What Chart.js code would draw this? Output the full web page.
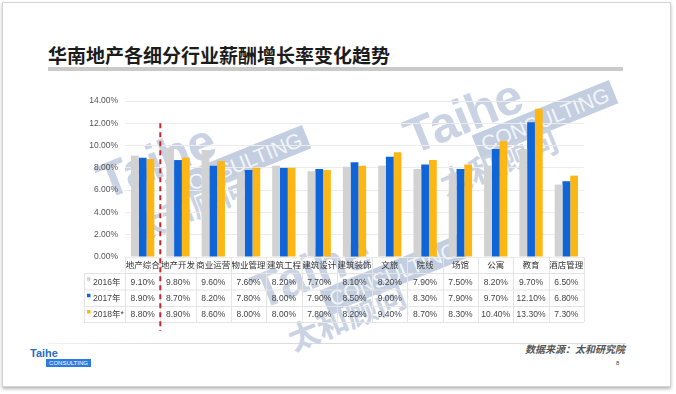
<!DOCTYPE html>
<html>
<head>
<meta charset="utf-8">
<script src="https://cdn.jsdelivr.net/npm/chart.js@4.4.1/dist/chart.umd.min.js"></script>
<style>
  html, body { margin: 0; padding: 0; background: #fff; }
  body { width: 676px; height: 394px; position: relative; overflow: hidden;
         font-family: "Liberation Sans", "Noto Sans CJK SC", sans-serif; }
  #slide { position: absolute; left: 2px; top: 2px; width: 667px; height: 383px;
           border: 1px solid #d4d4d4; background: #fff; box-shadow: 0 2px 3px rgba(0,0,0,.28); }
  #title { position: absolute; left: 48px; top: 45px; font-size: 19px; line-height: 19px;
           font-weight: bold; color: #1c1c1c; white-space: nowrap; font-family: "Noto Sans CJK SC", sans-serif; }
  #titleBar { position: absolute; left: 48px; top: 67px; width: 575px; height: 4px; background: #cacaca; }
  #c { position: absolute; left: 0; top: 0; z-index: 2; }
  .wm { position: absolute; z-index: 1; transform: rotate(-22deg); transform-origin: 0 0;
        color: #c9d3e3; pointer-events: none; }
  .wm .t { position: absolute; left: 0; top: 0; font: bold 50px/50px "Liberation Sans", sans-serif; letter-spacing: -1px; }
  .wm .b { position: absolute; left: 62px; top: 46px; background: #c3cee0; color: #f2f5fa;
           font: 21px/25px "Liberation Sans", sans-serif; padding: 0 6px; white-space: nowrap; }
  .wm .z { position: absolute; left: 15px; top: 64px; font: bold 31px/31px "Noto Sans CJK SC", sans-serif; white-space: nowrap; }
  #footLine { position: absolute; left: 48px; top: 343px; width: 578px; height: 1px;
              background: linear-gradient(to right, #f2f2f2, #dcdcdc 20%, #dcdcdc); }
  #logoT { position: absolute; left: 30px; top: 347px; font: bold 11px/12px "Liberation Sans", sans-serif; color: #2a6cc6; }
  #logoC { position: absolute; left: 46px; top: 359px; width: 45px; height: 8px; background: #2b7ce0;
           color: #fff; font: 6px/8px "Liberation Sans", sans-serif; text-align: center; }
  #source { position: absolute; right: 51px; top: 343px; font: italic bold 10px/12px "Noto Sans CJK SC", sans-serif; color: #555; }
  #page { position: absolute; left: 616px; top: 360px; font: 6px/7px "Liberation Sans", sans-serif; color: #444; }
</style>
</head>
<body>
<div id="slide"></div>
<div id="title">华南地产各细分行业薪酬增长率变化趋势</div>
<div id="titleBar"></div>
<div class="wm" style="left:90px;top:161px"><div class="t">Taihe</div><div class="b">CONSULTING</div><div class="z">太和顾问</div></div>
<div class="wm" style="left:397px;top:116px"><div class="t">Taihe</div><div class="b">CONSULTING</div><div class="z">太和顾问</div></div>
<div class="wm" style="left:245px;top:271px"><div class="t">Taihe</div><div class="b">CONSULTING</div><div class="z">太和顾问</div></div>
<canvas id="c" width="676" height="394"></canvas>
<div id="footLine"></div>
<div id="logoT">Taihe</div>
<div id="logoC">CONSULTING</div>
<div id="source">数据来源：太和研究院</div>
<div id="page">8</div>

<script>
const categories = ['地产综合', '地产开发', '商业运营', '物业管理', '建筑工程', '建筑设计', '建筑装饰',
                    '文旅', '院线', '场馆', '公寓', '教育', '酒店管理'];
const years   = ['2016年', '2017年', '2018年*'];
const rate2016 = [9.1, 9.8, 9.6, 7.6, 8.2, 7.7, 8.1, 8.2, 7.9, 7.5, 8.2, 9.7, 6.5];
const rate2017 = [8.9, 8.7, 8.2, 7.8, 8.0, 7.9, 8.5, 9.0, 8.3, 7.9, 9.7, 12.1, 6.8];
const rate2018 = [8.8, 8.9, 8.6, 8.0, 8.0, 7.8, 8.2, 9.4, 8.7, 8.3, 10.4, 13.3, 7.3];
const colors  = ['#d2d2d2', '#0f64d8', '#fdb714'];

const FONT = '"Liberation Sans", "Noto Sans CJK SC", sans-serif';
const series = [rate2016, rate2017, rate2018];
const pct = v => v.toFixed(2) + '%';

// table under the axis + red divider line
const tablePlugin = {
  id: 'dataTable',
  afterDraw(chart) {
    const { ctx, scales: { x, y } } = chart;
    const n = categories.length;
    const step = x.width / n;
    const top = y.bottom;
    const rows = [273, 289.5, 306, 322];
    const left = 84;

    ctx.save();
    ctx.strokeStyle = '#e4e4e4';
    ctx.lineWidth = 1;
    rows.forEach(r => {
      ctx.beginPath(); ctx.moveTo(left, r + 0.5); ctx.lineTo(x.right, r + 0.5); ctx.stroke();
    });
    for (let i = 0; i <= n; i++) {
      const xx = Math.round(x.left + i * step) + 0.5;
      ctx.beginPath(); ctx.moveTo(xx, top); ctx.lineTo(xx, rows[3]); ctx.stroke();
    }
    ctx.beginPath(); ctx.moveTo(left + 0.5, rows[0]); ctx.lineTo(left + 0.5, rows[3]); ctx.stroke();

    ctx.font = '8.5px ' + FONT;
    ctx.textBaseline = 'middle';
    series.forEach((vals, r) => {
      const cy = (rows[r] + rows[r + 1]) / 2 + 1;
      ctx.fillStyle = colors[r];
      ctx.fillRect(87, cy - 5, 3.5, 3.5);
      ctx.fillStyle = '#444';
      ctx.textAlign = 'left';
      ctx.fillText(years[r], 93, cy);
      ctx.textAlign = 'center';
      vals.forEach((v, j) => ctx.fillText(pct(v), x.getPixelForValue(j), cy));
    });

    // red dashed divider between 地产综合 and the rest
    const dx = x.left + step;
    ctx.strokeStyle = '#c8262c';
    ctx.lineWidth = 2;
    ctx.setLineDash([5, 4]);
    ctx.beginPath(); ctx.moveTo(dx, y.getPixelForValue(12)); ctx.lineTo(dx, 331); ctx.stroke();
    ctx.restore();
  }
};

new Chart(document.getElementById('c'), {
  type: 'bar',
  data: {
    labels: categories,
    datasets: series.map((d, i) => ({
      label: years[i],
      data: d,
      backgroundColor: colors[i],
      categoryPercentage: 0.66,
      barPercentage: 1.0,
    })),
  },
  options: {
    responsive: false,
    animation: false,
    layout: { padding: { left: 85, top: 101, right: 92, bottom: 121 } },
    plugins: { legend: { display: false }, tooltip: { enabled: false } },
    scales: {
      x: {
        grid: { display: false, drawTicks: false },
        border: { display: false },
        ticks: { color: '#333', font: { size: 8.5, family: FONT }, padding: 4, autoSkip: false, maxRotation: 0 },
        afterFit: s => { s.height = 16; },
      },
      y: {
        min: 0, max: 14,
        grid: { color: '#ececec', drawTicks: false },
        border: { display: false },
        ticks: { stepSize: 2, callback: v => pct(v), color: '#555', font: { size: 8.5, family: FONT }, padding: 7 },
        afterFit: s => { s.width = 40; },
      },
    },
  },
  plugins: [tablePlugin],
});
</script>
</body>
</html>
